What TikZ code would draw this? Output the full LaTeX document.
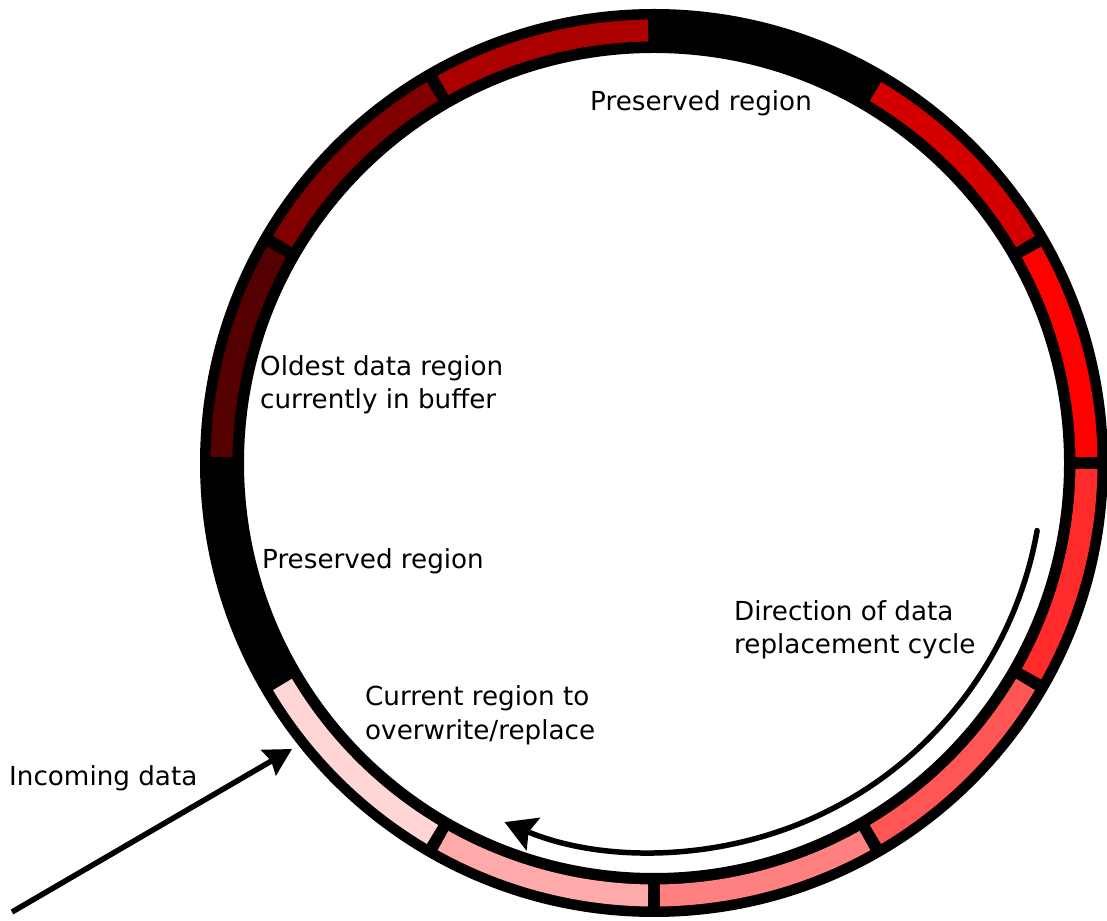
\documentclass[tikz,border=0pt]{standalone}
\usepackage{fontspec}
\setmainfont{DejaVu Sans}
\usetikzlibrary{arrows.meta}
\definecolor{segA}{HTML}{AA0000}
\definecolor{segB}{HTML}{800000}
\definecolor{segC}{HTML}{550000}
\definecolor{segD}{HTML}{D40000}
\definecolor{segE}{HTML}{FF0000}
\definecolor{segF}{HTML}{FF2A2A}
\definecolor{segG}{HTML}{FF5555}
\definecolor{segH}{HTML}{FF8080}
\definecolor{segI}{HTML}{FFAAAA}
\definecolor{segJ}{HTML}{FFD5D5}
\begin{document}
\begin{tikzpicture}[x=1pt,y=1pt,
  lbl/.style={anchor=base west, inner sep=0pt, font=\fontsize{26.2pt}{32pt}\selectfont},
  segment/.style={line width=22pt, line cap=butt},
  flow/.style={line width=5.5pt}]
\useasboundingbox (0,0) rectangle (1107,920);
\coordinate (C) at (654,457);
% black ring
\fill[black, even odd rule] (C) circle[radius=454pt] (C) circle[radius=410pt];
% coloured segments
\foreach \a/\b/\col in {90/120/segA,120/150/segB,150/180/segC,30/60/segD,0/30/segE,-30/0/segF,-60/-30/segG,-90/-60/segH,-120/-90/segI,-150/-120/segJ}{
  \draw[segment, draw=\col] ([shift={(\a+0.8:432.5)}]C) arc[start angle=\a+0.8, end angle=\b-0.8, radius=432.5pt];
}
% direction arrow
\coordinate (cycS) at ([shift={(-10:389)}]C);
\draw[flow, line cap=round, -{Stealth[length=31pt,width=35pt,inset=5pt]}] (cycS) arc[start angle=-10, end angle=-112.6, radius=389pt] coordinate (cycE);
% incoming arrow
\coordinate (inS) at (12,8);
\coordinate (inE) at (292,171);
\draw[flow, -{Stealth[length=27pt,width=29pt,inset=3pt]}] (inS) -- (inE);
% labels
\node[lbl] (pTop) at (590,809) {Preserved region};
\node[lbl] (old1) at (260,544) {Oldest data region};
\node[lbl] (old2) at (260,511) {currently in buffer};
\node[lbl] (pLeft) at (262,351) {Preserved region};
\node[lbl] (dir1) at (734,299) {Direction of data};
\node[lbl] (dir2) at (734,266) {replacement cycle};
\node[lbl] (cur1) at (365,214) {Current region to};
\node[lbl] (cur2) at (365,180) {overwrite/replace};
\node[lbl] (inc) at (9,134) {Incoming data};
\end{tikzpicture}
\end{document}
